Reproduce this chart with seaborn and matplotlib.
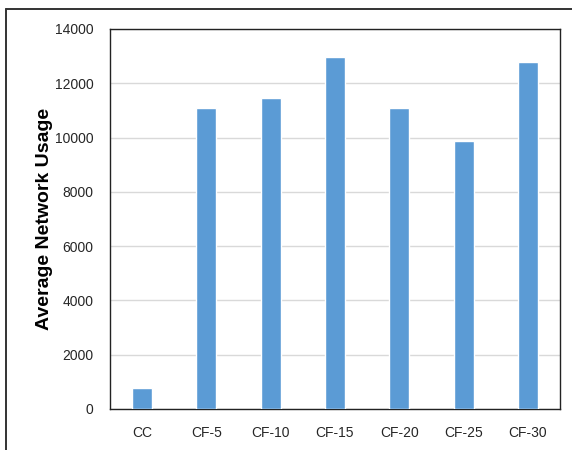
import matplotlib
matplotlib.use("Agg")
import matplotlib.pyplot as plt
from matplotlib.lines import Line2D
import seaborn as sns
import pandas as pd

# Average network usage per configuration
categories = ["CC", "CF-5", "CF-10", "CF-15", "CF-20", "CF-25", "CF-30"]
usage = [790, 11080, 11440, 12950, 11080, 9860, 12800]
y_ticks = [0, 2000, 4000, 6000, 8000, 10000, 12000, 14000]

df = pd.DataFrame({"config": categories, "usage": usage})

sns.set_theme(style="white")
plt.rcParams["font.family"] = ["Liberation Sans", "DejaVu Sans"]

fig = plt.figure(figsize=(5.72, 4.5), dpi=100)
ax = fig.add_axes([110 / 572, 1 - 409 / 450, 450 / 572, 380 / 450])

sns.barplot(data=df, x="config", y="usage", color="#5B9BD5", saturation=1,
            width=0.31, ax=ax, zorder=3)

ax.set_ylim(0, 14000)
ax.set_yticks(y_ticks)
ax.set_yticklabels([str(t) for t in y_ticks])
ax.set_xlim(-0.5, len(categories) - 0.5)
ax.yaxis.grid(True, color="#D9D9D9", linewidth=1.0, zorder=0)
ax.set_axisbelow(True)

for side in ["left", "right", "top", "bottom"]:
    ax.spines[side].set_visible(True)
    ax.spines[side].set_color("#222222")
    ax.spines[side].set_linewidth(1.0)

ax.tick_params(axis="y", length=0, labelsize=10, colors="#262626", pad=12)
ax.tick_params(axis="x", length=0, labelsize=10, colors="#262626", pad=12)
ax.set_xlabel("")
ax.set_ylabel("Average Network Usage", fontsize=14, fontweight="bold",
              color="#000000", labelpad=1)

# Outer frame around the chart
fig.add_artist(Line2D([6 / 572, 1.0], [1 - 9 / 450, 1 - 9 / 450],
                      transform=fig.transFigure, color="#333333", linewidth=1.4))
fig.add_artist(Line2D([6 / 572, 6 / 572], [0.0, 1 - 9 / 450],
                      transform=fig.transFigure, color="#333333", linewidth=1.4))

fig.savefig("out.png", dpi=100)
